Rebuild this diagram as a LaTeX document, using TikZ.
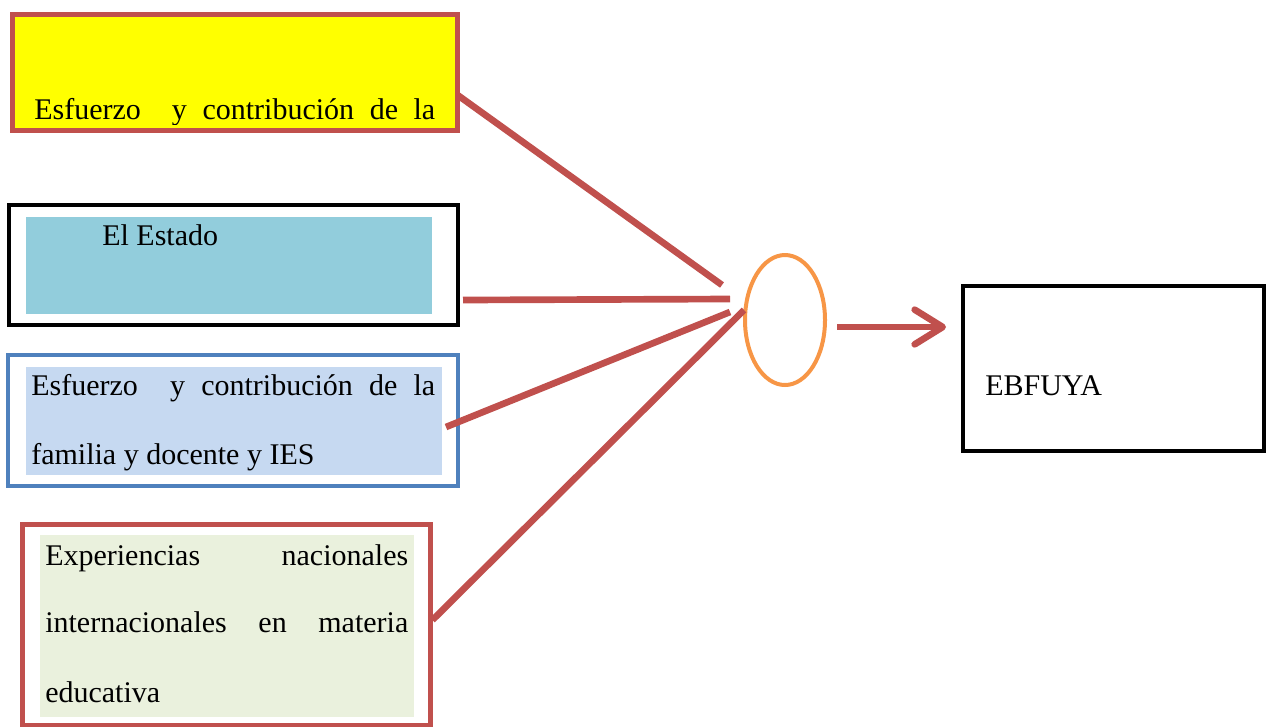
\documentclass[tikz,border=0pt]{standalone}
\usepackage{fontspec}
\setmainfont{Liberation Serif}
\usetikzlibrary{calc,shapes.geometric,arrows.meta}
\definecolor{cred}{HTML}{C0504D}
\definecolor{cblue}{HTML}{4F81BD}
\definecolor{cyanfill}{HTML}{92CDDC}
\definecolor{bluefill}{HTML}{C6D9F1}
\definecolor{greenfill}{HTML}{EAF1DD}
\definecolor{corange}{HTML}{F79646}
\definecolor{cyellow}{RGB}{255,255,0}
\begin{document}
\begin{tikzpicture}[x=0.75pt,y=-0.75pt,
  box/.style={draw, inner sep=0pt, outer sep=0pt},
  fillbox/.style={inner sep=0pt, outer sep=0pt},
  txt/.style={anchor=base west, inner sep=0pt, font=\fontsize{22.5}{26}\selectfont},
  link/.style={draw=cred, line width=5pt},
  flow/.style={draw=cred, line width=5pt, -{Straight Barb[round, length=21pt, width=26pt]}}
]
\useasboundingbox (0,0) rectangle (1270,726);
% yellow box
\node[fillbox, fill=cyellow, minimum width=445*0.75pt, minimum height=116*0.75pt] (yfill) at (235,72.5) {};
\begin{scope}
\clip (12,14) rectangle (458,124);
\node[txt] (ytext) at (34,119) {\makebox[300.75pt][s]{Esfuerzo\hfill\hfill y\hfill contribución\hfill de\hfill la}};
\end{scope}
\node[box, draw=cred, line width=3.75pt, minimum width=445*0.75pt, minimum height=116*0.75pt] (yellow) at (235,72.5) {};
% El Estado
\node[fillbox, fill=cyanfill, minimum width=406*0.75pt, minimum height=97*0.75pt] (efill) at (229,265.5) {};
\node[box, draw=black, line width=3pt, minimum width=449*0.75pt, minimum height=120*0.75pt] (estado) at (233.5,265) {};
\node[txt] (etext) at (102,245) {El Estado};
% blue box
\node[fillbox, fill=bluefill, minimum width=416*0.75pt, minimum height=108*0.75pt] (bfill) at (234,421) {};
\node[box, draw=cblue, line width=3pt, minimum width=450*0.75pt, minimum height=131*0.75pt] (blue) at (233,420.5) {};
\node[txt] (btext1) at (31,395) {\makebox[303pt][s]{Esfuerzo\hfill\hfill y\hfill contribución\hfill de\hfill la}};
\node[txt] (btext2) at (31,464) {familia y docente y IES};
% green box
\node[fillbox, fill=greenfill, minimum width=374*0.75pt, minimum height=182*0.75pt] (gfill) at (227,626) {};
\node[box, draw=cred, line width=3.75pt, minimum width=408*0.75pt, minimum height=201*0.75pt] (green) at (226.5,625) {};
\node[txt] (gtext1) at (45,565) {\makebox[272.25pt][s]{Experiencias\hfill nacionales}};
\node[txt] (gtext2) at (45,632) {\makebox[272.25pt][s]{internacionales\hfill en\hfill materia}};
\node[txt] (gtext3) at (45,702) {educativa};
% ellipse
\node[ellipse, draw=corange, line width=3pt, inner sep=0pt, minimum width=80*0.75pt, minimum height=130*0.75pt] (ell) at (785,320) {};
% result box
\node[box, draw=black, line width=3pt, minimum width=301*0.75pt, minimum height=165*0.75pt] (ebf) at (1113.5,368.5) {};
\node[txt] (ebftext) at (985,395) {EBFUYA};
% connector ends
\coordinate (e1) at (722,285);
\coordinate (e2) at (730,299);
\coordinate (e3) at (730,312);
\coordinate (e4) at (744,310);
\draw[link] ($(yellow.east)+(0,22.5)$) -- (e1);
\draw[link] ($(estado.east)+(5,35)$) -- (e2);
\draw[link] ($(blue.east)+(-12,6.5)$) -- (e3);
\draw[link] ($(green.east)+(2,-5)$) -- (e4);
\draw[flow] ($(ell.east)+(10,7)$) -- ($(ebf.west)+(-17,-41.5)$);
\end{tikzpicture}
\end{document}
